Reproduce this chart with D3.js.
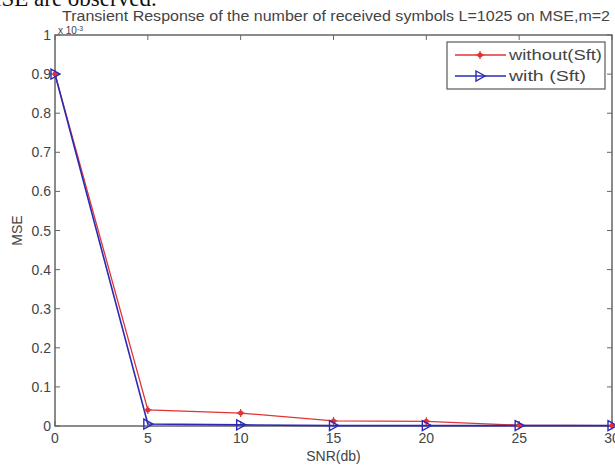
<!DOCTYPE html>
<html><head><meta charset="utf-8">
<script src="https://cdn.jsdelivr.net/npm/d3@7"></script>
<style>body{margin:0;background:#fff}svg{display:block}</style>
</head><body>
<svg id="c" width="615" height="466"></svg>
<script>
const snr = [0, 5, 10, 15, 20, 25, 30];
const without = [0.9, 0.041, 0.033, 0.013, 0.012, 0.002, 0.001];
const withS = [0.9, 0.005, 0.003, 0.001, 0.001, 0.001, 0.001];
const xTicks = [0, 5, 10, 15, 20, 25, 30];
const yTicks = [0, 0.1, 0.2, 0.3, 0.4, 0.5, 0.6, 0.7, 0.8, 0.9, 1];
const seriesNames = ["without(Sft)", "with (Sft)"];
const titleText = "Transient Response of the number of received symbols L=1025 on MSE,m=2";

const svg = d3.select("#c");
const L = 55, R = 612, T = 35, B = 426;
const x = d3.scaleLinear().domain([0, 30]).range([L, R]);
const y = d3.scaleLinear().domain([0, 1]).range([B, T]);
const axCol = "#666", txtCol = "#444";
const font = "Arial, Liberation Sans, sans-serif";
const fs = 14;

// page text fragment at top (cut by the image edge)
svg.append("text").attr("x", -19).attr("y", 6).attr("font-family", "Liberation Serif, serif")
  .attr("font-size", 23).attr("fill", "#111").text("MSE are observed.");

// frame
svg.append("rect").attr("x", L).attr("y", T).attr("width", R - L).attr("height", B - T)
  .attr("fill", "none").attr("stroke", axCol).attr("stroke-width", 1.5);

const ax = svg.append("g").attr("stroke", axCol).attr("stroke-width", 1);
xTicks.forEach(t => {
  ax.append("line").attr("x1", x(t)).attr("x2", x(t)).attr("y1", B).attr("y2", B - 5);
  ax.append("line").attr("x1", x(t)).attr("x2", x(t)).attr("y1", T).attr("y2", T + 5);
});
yTicks.forEach(t => {
  ax.append("line").attr("x1", L).attr("x2", L + 5).attr("y1", y(t)).attr("y2", y(t));
  ax.append("line").attr("x1", R).attr("x2", R - 5).attr("y1", y(t)).attr("y2", y(t));
});

const xa = svg.append("g").attr("font-family", font).attr("font-size", fs).attr("fill", txtCol);
xTicks.forEach(t => xa.append("text").attr("x", x(t)).attr("y", B + 17).attr("text-anchor", "middle").text(t));
yTicks.forEach(t => xa.append("text").attr("x", L - 4).attr("y", y(t) + 5).attr("text-anchor", "end").text(t));

svg.append("text").attr("x", (L + R) / 2).attr("y", 461).attr("text-anchor", "middle")
  .attr("font-family", font).attr("font-size", fs).attr("fill", txtCol).text("SNR(db)");
svg.append("text").attr("transform", `translate(22,${(T + B) / 2}) rotate(-90)`).attr("text-anchor", "middle")
  .attr("font-family", font).attr("font-size", fs).attr("fill", txtCol).text("MSE");

svg.append("text").attr("x", 62).attr("y", 21)
  .attr("font-family", font).attr("font-size", 14).attr("fill", txtCol)
  .attr("textLength", 548).attr("lengthAdjust", "spacingAndGlyphs").text(titleText);
const ex = svg.append("text").attr("x", 58).attr("y", 34).attr("font-family", font).attr("font-size", 10).attr("fill", txtCol);
ex.append("tspan").text("x 10");
ex.append("tspan").attr("dy", -3).attr("font-size", 7).text("-3");

const red = "#e03434", blue = "#2a2ab8";
const line = d3.line().x((d, i) => x(snr[i])).y(d => y(d));

svg.append("path").datum(without).attr("d", line).attr("fill", "none").attr("stroke", red).attr("stroke-width", 1.3);
svg.append("path").datum(withS).attr("d", line).attr("fill", "none").attr("stroke", blue).attr("stroke-width", 1.6);

function star(g, cx, cy, c) {
  g.append("circle").attr("cx", cx).attr("cy", cy).attr("r", 2.5).attr("fill", c);
  [[-4, 0, 4, 0], [0, -4, 0, 4]].forEach(s =>
    g.append("line").attr("x1", cx + s[0]).attr("y1", cy + s[1]).attr("x2", cx + s[2]).attr("y2", cy + s[3]).attr("stroke", c).attr("stroke-width", 1.2));
}
function tri(g, cx, cy, c) {
  g.append("path").attr("d", `M${cx - 4},${cy - 5}L${cx + 5},${cy}L${cx - 4},${cy + 5}Z`)
    .attr("fill", "none").attr("stroke", c).attr("stroke-width", 1.4);
}
const mk = svg.append("g");
without.forEach((d, i) => star(mk, x(snr[i]), y(d), red));
withS.forEach((d, i) => tri(mk, x(snr[i]), y(d), blue));

// legend
const lg = svg.append("g");
lg.append("rect").attr("x", 447).attr("y", 42).attr("width", 158).attr("height", 47)
  .attr("fill", "#fff").attr("stroke", axCol).attr("stroke-width", 1.3);
lg.append("line").attr("x1", 455).attr("x2", 506).attr("y1", 55).attr("y2", 55).attr("stroke", red).attr("stroke-width", 1.3);
star(lg, 480, 55, red);
lg.append("line").attr("x1", 455).attr("x2", 506).attr("y1", 76).attr("y2", 76).attr("stroke", blue).attr("stroke-width", 1.3);
tri(lg, 480, 76, blue);
lg.append("text").attr("x", 509).attr("y", 60).attr("font-family", font).attr("font-size", fs).attr("fill", txtCol)
  .attr("textLength", 93).attr("lengthAdjust", "spacingAndGlyphs").text(seriesNames[0]);
lg.append("text").attr("x", 509).attr("y", 81).attr("font-family", font).attr("font-size", fs).attr("fill", txtCol)
  .attr("textLength", 77).attr("lengthAdjust", "spacingAndGlyphs").text(seriesNames[1]);
</script>
</body></html>
